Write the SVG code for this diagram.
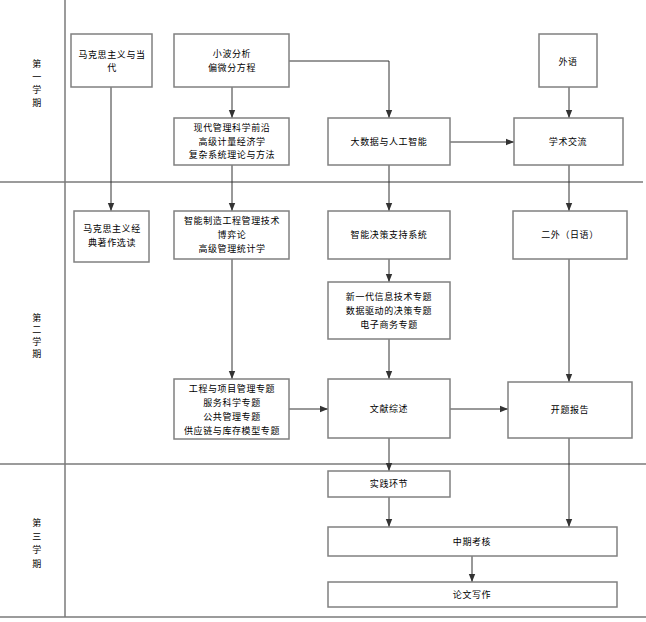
<svg xmlns="http://www.w3.org/2000/svg" width="646" height="622" viewBox="0 0 646 622">
<style>
.bg{fill:#fff}
.grid{stroke:#7a7a7a;stroke-width:1.5;fill:none}
.box{fill:#fff;stroke:#808080;stroke-width:1.5}
.t{font-family:"Noto Sans CJK SC","Liberation Sans",sans-serif;font-size:9px;fill:#000;text-anchor:middle;letter-spacing:0.6px}
.c{stroke:#333;stroke-width:1;fill:none;marker-end:url(#ah)}
</style>
<defs>
<marker id="ah" viewBox="0 0 10 10" refX="10" refY="5" markerWidth="8" markerHeight="8" markerUnits="userSpaceOnUse" orient="auto">
<path d="M0,1 L10,5 L0,9 z" fill="#333"/>
</marker>
</defs>
<rect class="bg" x="0" y="0" width="646" height="622"/>
<g id="grid">
<line class="grid" x1="65" y1="0" x2="65" y2="617"/>
<line class="grid" x1="0" y1="182" x2="643" y2="182"/>
<line class="grid" x1="0" y1="464" x2="646" y2="464"/>
<line class="grid" x1="0" y1="617" x2="646" y2="617"/>
</g>
<g id="term1"><text class="t" x="37"><tspan x="37" y="67">第</tspan><tspan x="37" y="80">一</tspan><tspan x="37" y="93">学</tspan><tspan x="37" y="106">期</tspan></text></g>
<g id="term2"><text class="t" x="37"><tspan x="37" y="321">第</tspan><tspan x="37" y="333">二</tspan><tspan x="37" y="345">学</tspan><tspan x="37" y="357">期</tspan></text></g>
<g id="term3"><text class="t" x="37"><tspan x="37" y="526">第</tspan><tspan x="37" y="540">三</tspan><tspan x="37" y="553">学</tspan><tspan x="37" y="567">期</tspan></text></g>
<g id="connectors">
<path class="c" d="M111,87 V211"/>
<path class="c" d="M232,87 V118"/>
<path class="c" d="M289,61 H389 V118"/>
<path class="c" d="M569,87 V118"/>
<path class="c" d="M450,142 H514"/>
<path class="c" d="M232,165 V211"/>
<path class="c" d="M389,165 V211"/>
<path class="c" d="M569,165 V211"/>
<path class="c" d="M232,259 V379"/>
<path class="c" d="M389,259 V282"/>
<path class="c" d="M389,339 V379"/>
<path class="c" d="M569,259 V382"/>
<path class="c" d="M289,409 H328"/>
<path class="c" d="M450,409 H508"/>
<path class="c" d="M389,438 V471"/>
<path class="c" d="M389,497 V527"/>
<path class="c" d="M569,438 V527"/>
<path class="c" d="M472,556 V582"/>
</g>
<g id="n1"><rect class="box" x="71" y="34" width="81" height="53"/><text class="t"><tspan x="112" y="58">马克思主义与当</tspan><tspan x="112" y="71">代</tspan></text></g>
<g id="n2"><rect class="box" x="174" y="34" width="115" height="53"/><text class="t"><tspan x="232" y="57">小波分析</tspan><tspan x="232" y="71">偏微分方程</tspan></text></g>
<g id="n3"><rect class="box" x="174" y="118" width="115" height="47"/><text class="t"><tspan x="232" y="131">现代管理科学前沿</tspan><tspan x="232" y="145">高级计量经济学</tspan><tspan x="232" y="158">复杂系统理论与方法</tspan></text></g>
<g id="n4"><rect class="box" x="328" y="118" width="122" height="47"/><text class="t" x="389" y="145">大数据与人工智能</text></g>
<g id="n5"><rect class="box" x="539" y="34" width="58" height="53"/><text class="t" x="568" y="65">外语</text></g>
<g id="n6"><rect class="box" x="514" y="118" width="109" height="47"/><text class="t" x="568" y="145">学术交流</text></g>
<g id="n7"><rect class="box" x="74" y="211" width="75" height="51"/><text class="t"><tspan x="112" y="232">马克思主义经</tspan><tspan x="112" y="246">典著作选读</tspan></text></g>
<g id="n8"><rect class="box" x="174" y="211" width="115" height="48"/><text class="t"><tspan x="232" y="224">智能制造工程管理技术</tspan><tspan x="232" y="238">博弈论</tspan><tspan x="232" y="252">高级管理统计学</tspan></text></g>
<g id="n9"><rect class="box" x="328" y="211" width="122" height="48"/><text class="t" x="389" y="238">智能决策支持系统</text></g>
<g id="n10"><rect class="box" x="513" y="211" width="114" height="48"/><text class="t" x="570" y="238">二外（日语）</text></g>
<g id="n11"><rect class="box" x="328" y="282" width="122" height="57"/><text class="t"><tspan x="389" y="300">新一代信息技术专题</tspan><tspan x="389" y="314">数据驱动的决策专题</tspan><tspan x="389" y="328">电子商务专题</tspan></text></g>
<g id="n12"><rect class="box" x="174" y="379" width="115" height="60"/><text class="t"><tspan x="232" y="392">工程与项目管理专题</tspan><tspan x="232" y="406">服务科学专题</tspan><tspan x="232" y="420">公共管理专题</tspan><tspan x="232" y="434">供应链与库存模型专题</tspan></text></g>
<g id="n13"><rect class="box" x="328" y="379" width="122" height="59"/><text class="t" x="389" y="412">文献综述</text></g>
<g id="n14"><rect class="box" x="508" y="382" width="124" height="56"/><text class="t" x="570" y="413">开题报告</text></g>
<g id="n15"><rect class="box" x="328" y="471" width="122" height="26"/><text class="t" x="389" y="487">实践环节</text></g>
<g id="n16"><rect class="box" x="328" y="527" width="289" height="29"/><text class="t" x="472" y="545">中期考核</text></g>
<g id="n17"><rect class="box" x="328" y="582" width="289" height="25"/><text class="t" x="472" y="598">论文写作</text></g>
</svg>
